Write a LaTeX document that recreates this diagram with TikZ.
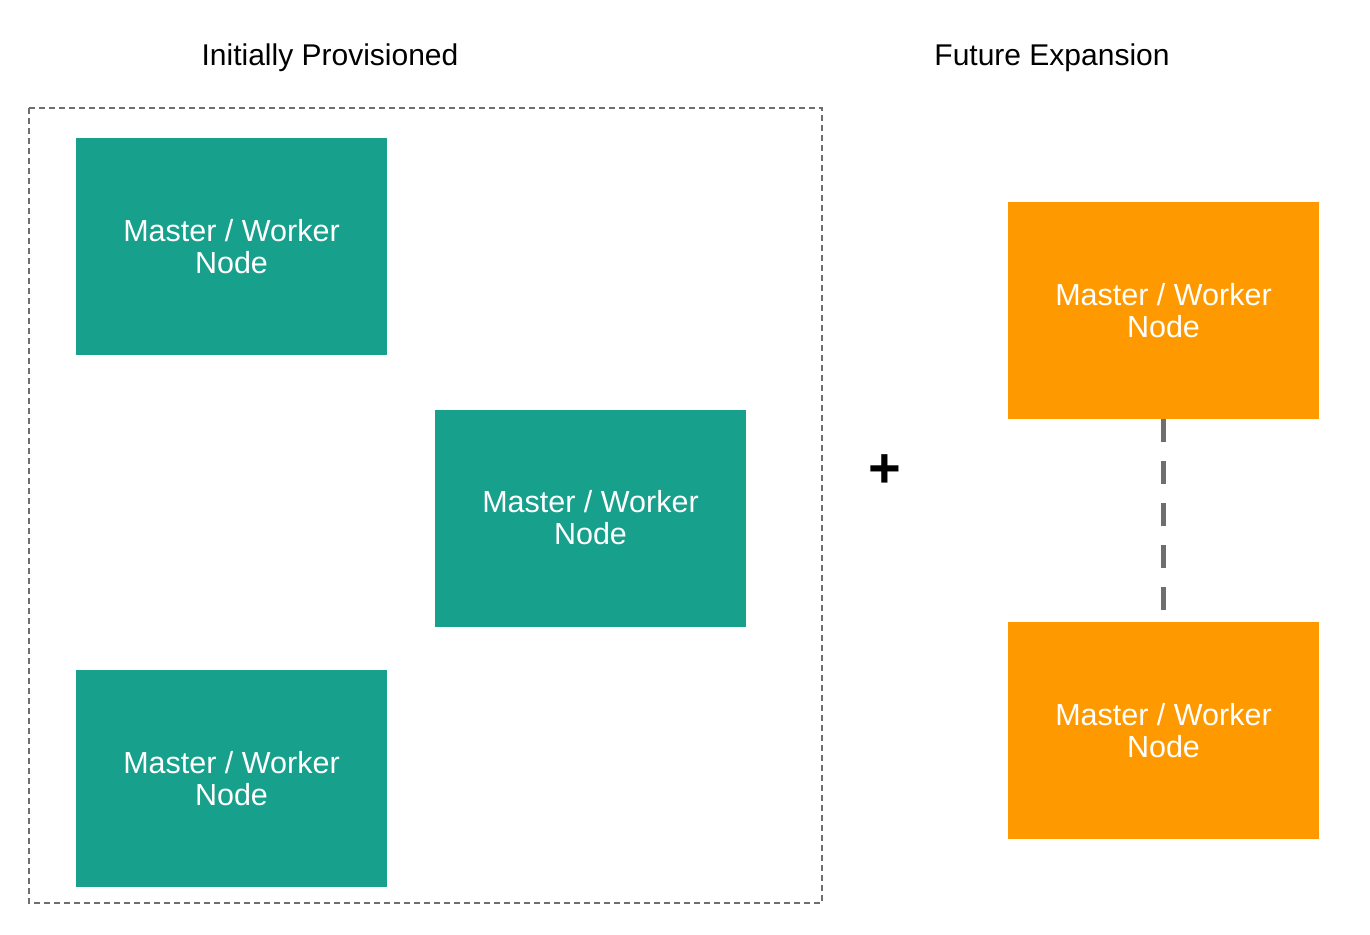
\documentclass[tikz,border=0pt]{standalone}
\usepackage{fontspec}
\setmainfont{Liberation Sans}
\definecolor{teal}{HTML}{17A08B}
\definecolor{orng}{HTML}{FF9900}
\definecolor{dashgray}{HTML}{6E6E6E}
\begin{document}
\begin{tikzpicture}[x=1pt,y=-1pt,
  box/.style={minimum width=311pt,minimum height=217pt,inner sep=0pt,
    align=center,text=white,font=\fontsize{30.5}{32}\selectfont},
  tealbox/.style={box,fill=teal},
  orangebox/.style={box,fill=orng},
  title/.style={font=\fontsize{30}{32}\selectfont,text=black},
  frame/.style={draw=dashgray,line width=1.5pt,dash pattern=on 6pt off 4pt},
  link/.style={draw=dashgray,line width=5.5pt,dash pattern=on 23pt off 19pt}]
\useasboundingbox (0,0) rectangle (1370,934);
\node[title] (t1) at (330,57.5) {Initially Provisioned};
\node[title] (t2) at (1052,57.5) {Future Expansion};
\draw[frame] (29,108) rectangle (822,903);
\node[tealbox] (a) at (231.5,246.5) {Master / Worker\\Node};
\node[tealbox] (b) at (590.5,518) {Master / Worker\\Node};
\node[tealbox] (c) at (231.5,778.5) {Master / Worker\\Node};
\node[font=\bfseries\fontsize{56}{56}\selectfont] (plus) at (885,471) {+};
\node[orangebox] (d) at (1163.5,310.5) {Master / Worker\\Node};
\node[orangebox] (e) at (1163.5,730.5) {Master / Worker\\Node};
\draw[link] (d.south) -- (e.north);
\end{tikzpicture}
\end{document}
